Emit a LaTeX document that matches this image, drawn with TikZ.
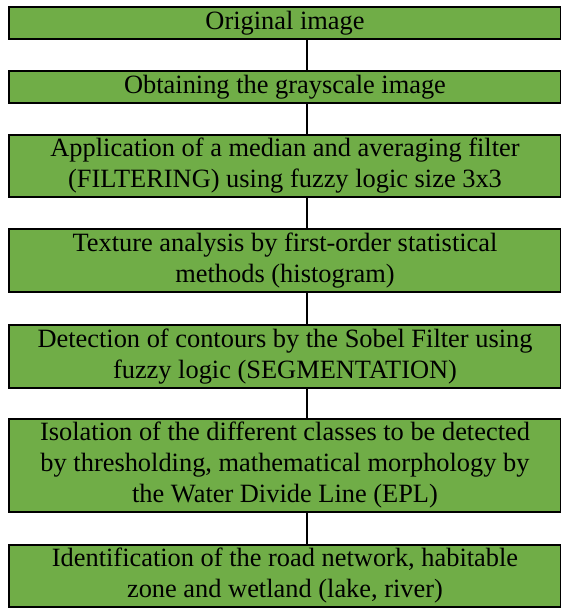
\documentclass[tikz,border=0pt]{standalone}
\usepackage{fontspec}
\setmainfont{Liberation Serif}
\definecolor{boxgreen}{HTML}{70AD47}
\begin{document}
\begin{tikzpicture}[x=1pt,y=-1pt,
  stepbox/.style={draw=black,line width=2pt,fill=boxgreen,minimum width=552pt,
    inner sep=0pt,align=center,font=\fontsize{26.4}{31}\selectfont},
  link/.style={draw=black,line width=1.5pt}]
\useasboundingbox (0,0) rectangle (560,608);
\node[stepbox,minimum height=32pt] (b1) at (285,23) {Original image};
\node[stepbox,minimum height=32pt] (b2) at (285,87) {Obtaining the grayscale image};
\node[stepbox,minimum height=62pt] (b3) at (285,166) {Application of a median and averaging filter\\(FILTERING) using fuzzy logic size 3x3};
\node[stepbox,minimum height=63pt] (b4) at (285,260.5) {Texture analysis by first-order statistical\\methods (histogram)};
\node[stepbox,minimum height=63pt] (b5) at (285,356.5) {Detection of contours by the Sobel Filter using\\fuzzy logic (SEGMENTATION)};
\node[stepbox,minimum height=93pt] (b6) at (285,465.5) {Isolation of the different classes to be detected\\by thresholding, mathematical morphology by\\the Water Divide Line (EPL)};
\node[stepbox,minimum height=62pt] (b7) at (285,576) {Identification of the road network, habitable\\zone and wetland (lake, river)};
\coordinate (cx) at (307,0);
\foreach \a/\b in {b1/b2,b2/b3,b3/b4,b4/b5,b5/b6,b6/b7}
  \draw[link] (\a.south -| cx) -- (\b.north -| cx);
\end{tikzpicture}
\end{document}
